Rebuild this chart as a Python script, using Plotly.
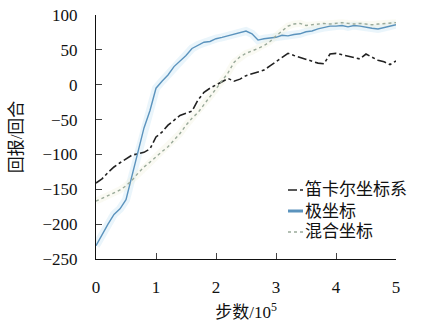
import plotly.graph_objects as go

steps = [i / 10 for i in range(51)]

cartesian = [-141, -135, -126, -118, -112, -107, -101, -99, -97, -92,
             -75, -68, -58, -51, -44, -41, -38, -22, -11, -5,
             0, 5, 9, 5, 8, 13, 16, 19, 21, 27,
             33, 40, 45, 42, 39, 37, 34, 31, 30, 44,
             45, 43, 40, 39, 37, 44, 40, 35, 33, 29, 34]

polar = [-231, -215, -200, -186, -178, -165, -132, -98, -62, -37,
         -5, 5, 14, 26, 34, 42, 52, 57, 61, 62,
         66, 68, 70, 72, 75, 77, 73, 64, 66, 67,
         68, 71, 70, 72, 73, 76, 77, 80, 82, 84,
         84, 85, 83, 85, 84, 82, 81, 80, 82, 84, 86]

hybrid = [-167, -163, -159, -156, -151, -145, -137, -127, -118, -111,
          -103, -96, -89, -80, -70, -58, -48, -40, -28, -17,
          -6, 5, 17, 32, 40, 45, 48, 52, 56, 62,
          70, 77, 84, 87, 88, 85, 86, 87, 88, 87,
          88, 89, 88, 87, 88, 87, 86, 87, 88, 88, 89]

names = ["笛卡尔坐标系", "极坐标", "混合坐标"]
colors = ["#222222", "#5b93bd", "#9aaa9a"]
dashes = ["dashdot", "solid", "dot"]
widths = [1.6, 1.4, 1.4]
legend_widths = [1.6, 3, 1.6]
xticks = [0, 1, 2, 3, 4, 5]
yticks = [100, 50, 0, -50, -100, -150, -200, -250]

serif = '"Liberation Serif", "Times New Roman", "Noto Sans CJK SC", serif'

fig = go.Figure()
# faint halos
fig.add_trace(go.Scatter(x=steps, y=polar, mode="lines", showlegend=False,
                         line=dict(color="rgba(170,215,240,0.25)", width=8), hoverinfo="skip"))
fig.add_trace(go.Scatter(x=steps, y=hybrid, mode="lines", showlegend=False,
                         line=dict(color="rgba(240,242,220,0.35)", width=7), hoverinfo="skip"))

for name, ys, c, d, w in zip(names, [cartesian, polar, hybrid], colors, dashes, widths):
    fig.add_trace(go.Scatter(x=steps, y=ys, mode="lines", name=name, showlegend=False,
                             line=dict(color=c, width=w, dash=d)))

# manual legend (paper coordinates)
legend_y = [0.2828, 0.1967, 0.1107]
for name, c, d, lw, ly in zip(names, colors, dashes, legend_widths, legend_y):
    fig.add_shape(type="line", xref="paper", yref="paper", x0=0.64, x1=0.69, y0=ly, y1=ly,
                  line=dict(color=c, width=lw, dash=d))
    fig.add_annotation(xref="paper", yref="paper", x=0.693, y=ly, xanchor="left",
                       yanchor="middle", text=name, showarrow=False,
                       borderpad=0,
                       font=dict(size=17, family=serif, color="#111"))

fig.update_layout(
    width=422, height=325, autosize=False,
    margin=dict(l=96, r=26, t=15, b=66),
    paper_bgcolor="white", plot_bgcolor="white",
    font=dict(family=serif, size=17, color="#111"),
    showlegend=False,
)
fig.update_xaxes(range=[0, 5], tickvals=xticks, ticks="inside", ticklen=6,
                 showline=True, linecolor="#111", linewidth=1.2, showgrid=False,
                 zeroline=False, ticklabelstandoff=12, automargin=False,
                 title=dict(text="步数/10<sup>5</sup>", standoff=10, font=dict(size=17)))
fig.update_yaxes(range=[-250, 100], tickvals=yticks,
                 ticktext=[str(v).replace("-", "−") for v in yticks],
                 ticks="inside", ticklen=6,
                 showline=True, linecolor="#111", linewidth=1.2, showgrid=False,
                 zeroline=False, ticklabelstandoff=14, automargin=False,
                 title=dict(text="回报/回合", standoff=15, font=dict(size=17)))

fig.write_html("out.html", config={"responsive": False, "displayModeBar": False},
               post_script="document.body.style.margin='0px';document.body.style.padding='0px';")
